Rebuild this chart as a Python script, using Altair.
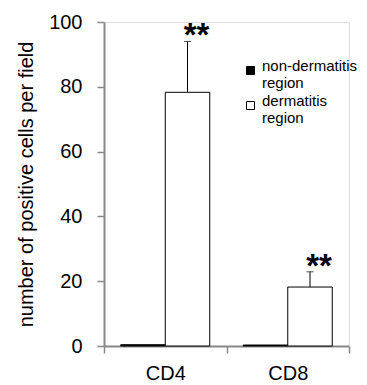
import altair as alt
import pandas as pd

markers = ["CD4", "CD8"]
regions = ["non-dermatitis region", "dermatitis region"]
row_marker = ["CD4", "CD4", "CD8", "CD8"]
row_region = ["non-dermatitis region", "dermatitis region", "non-dermatitis region", "dermatitis region"]
means = [0.4, 78.3, 0.3, 18.2]
errors = [0.0, 15.7, 0.0, 4.7]
stars = ["", "**", "", "**"]

df = pd.DataFrame({
    "marker": row_marker,
    "region": row_region,
    "mean": means,
    "err": errors,
    "star": stars,
})
df["upper"] = df["mean"] + df["err"]

FONT = "Liberation Sans"
TITLE = "number of positive cells per field"

x = alt.X("marker:N",
          scale=alt.Scale(domain=markers, paddingInner=0, paddingOuter=0),
          axis=alt.Axis(title=None, labelAngle=0, tickBand="extent",
                        domainWidth=2, tickWidth=1.5, tickSize=7,
                        labelFontSize=20, labelPadding=10, labelFont=FONT))
xo = alt.XOffset("region:N",
                 scale=alt.Scale(domain=regions, paddingInner=0, paddingOuter=0.376))
yscale = alt.Scale(domain=[0, 100])
yaxis = alt.Axis(values=[0, 20, 40, 60, 80, 100], grid=False,
                 title=TITLE,
                 titleFontSize=20, titleFontWeight="normal", titleFont=FONT,
                 titlePadding=12, domainWidth=2, tickWidth=1.5, tickSize=7,
                 labelFontSize=20, labelPadding=15, labelFont=FONT)

bars = alt.Chart(df).mark_bar(stroke="black", strokeWidth=1).encode(
    x=x, xOffset=xo,
    y=alt.Y("mean:Q", scale=yscale, axis=yaxis, title=TITLE),
    color=alt.Color("region:N",
                    scale=alt.Scale(domain=regions, range=["black", "white"]),
                    legend=alt.Legend(title=None, orient="none", legendX=139, legendY=41,
                                      symbolType="square", symbolSize=64,
                                      symbolStrokeColor="black", symbolStrokeWidth=1,
                                      labelFontSize=15, labelFont=FONT,
                                      labelExpr="split(datum.label, ' ')",
                                      labelBaseline="alphabetic", rowPadding=2)),
)

eb = df[df["err"] > 0]
rules = alt.Chart(eb).mark_rule(color="black", strokeWidth=1).encode(
    x=x, xOffset=xo,
    y=alt.Y("mean:Q", scale=yscale, axis=yaxis, title=TITLE), y2="upper:Q",
)
caps = alt.Chart(eb).mark_tick(color="black", thickness=1, size=7, orient="horizontal").encode(
    x=x, xOffset=xo,
    y=alt.Y("upper:Q", scale=yscale, axis=yaxis, title=TITLE),
)
text = alt.Chart(eb).mark_text(fontSize=33, fontWeight="bold", font=FONT,
                               baseline="alphabetic", dx=9, dy=5, color="black").encode(
    x=x, xOffset=xo,
    y=alt.Y("upper:Q", scale=yscale, axis=yaxis, title=TITLE),
    text="star:N",
)

chart = alt.layer(bars, rules, caps, text).properties(
    width=245, height=324,
    autosize=alt.AutoSizeParams(type="none"),
    padding={"left": 96, "top": 14, "right": 10, "bottom": 37},
).configure_view(stroke=None).configure_axis(
    domainColor="black", tickColor="black", labelColor="black", titleColor="black"
).configure(background="white")

chart.save("out.html", embed_options={"renderer": "svg", "actions": False})
